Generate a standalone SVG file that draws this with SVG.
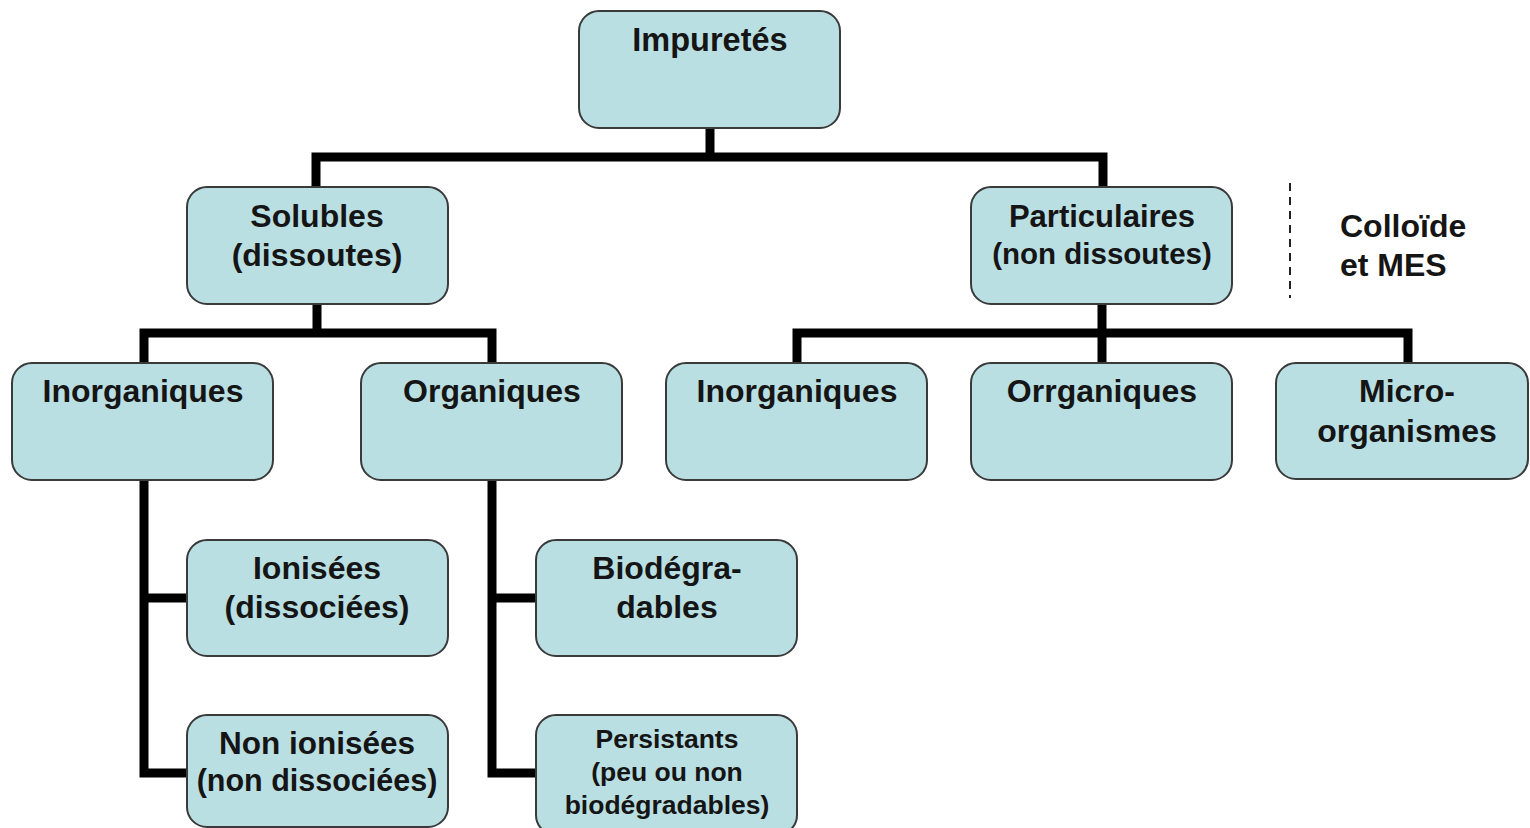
<svg xmlns="http://www.w3.org/2000/svg" width="1530" height="828" viewBox="0 0 1530 828">
<style>
.box{fill:#b9dfe3;stroke:#3a3a3a;stroke-width:2}
.t{font-family:"Liberation Sans",Arial,sans-serif;font-weight:bold;fill:#151515;text-anchor:middle}
.c{fill:none;stroke:#000;stroke-width:9;stroke-linejoin:miter;stroke-linecap:butt}
</style>
<rect width="1530" height="828" fill="#fff"/>
<g id="connectors">
<path class="c" d="M710 128V157M316 191V157H1103V191"/>
<path class="c" d="M317 304V333M144 367V333H492V367"/>
<path class="c" d="M1102 304V333M797 367V333H1408V367M1102 333V367"/>
<path class="c" d="M144 480V773H191M144 598H191"/>
<path class="c" d="M492 480V773H540M492 598H540"/>
<line x1="1290" y1="183" x2="1290" y2="298" stroke="#222" stroke-width="2" stroke-dasharray="8,6"/>
</g>
<g id="impuretes"><rect class="box" x="579" y="11" width="261" height="117" rx="20"/><text class="t" x="710" y="51" font-size="32.5">Impuretés</text></g>
<g id="solubles"><rect class="box" x="187" y="187" width="261" height="117" rx="20"/><text class="t" x="317" y="227" font-size="32">Solubles</text><text class="t" x="317" y="266" font-size="32">(dissoutes)</text></g>
<g id="particulaires"><rect class="box" x="971" y="187" width="261" height="117" rx="20"/><text class="t" x="1102" y="227" font-size="31">Particulaires</text><text class="t" x="1102" y="264" font-size="29.5">(non dissoutes)</text></g>
<g id="colloide"><text class="t" x="1340" y="237" font-size="32" style="text-anchor:start">Colloïde</text><text class="t" x="1340" y="276" font-size="32" style="text-anchor:start">et MES</text></g>
<g id="inorg1"><rect class="box" x="12" y="363" width="261" height="117" rx="20"/><text class="t" x="143" y="402" font-size="32">Inorganiques</text></g>
<g id="org1"><rect class="box" x="361" y="363" width="261" height="117" rx="20"/><text class="t" x="492" y="402" font-size="32">Organiques</text></g>
<g id="inorg2"><rect class="box" x="666" y="363" width="261" height="117" rx="20"/><text class="t" x="797" y="402" font-size="32">Inorganiques</text></g>
<g id="org2"><rect class="box" x="971" y="363" width="261" height="117" rx="20"/><text class="t" x="1102" y="402" font-size="32">Orrganiques</text></g>
<g id="micro"><rect class="box" x="1276" y="363" width="252" height="116" rx="20"/><text class="t" x="1407" y="402" font-size="32">Micro-</text><text class="t" x="1407" y="442" font-size="32">organismes</text></g>
<g id="ionisees"><rect class="box" x="187" y="540" width="261" height="116" rx="20"/><text class="t" x="317" y="579" font-size="32">Ionisées</text><text class="t" x="317" y="618" font-size="32">(dissociées)</text></g>
<g id="nonionisees"><rect class="box" x="187" y="715" width="261" height="112" rx="20"/><text class="t" x="317" y="754" font-size="31.5">Non ionisées</text><text class="t" x="317" y="791" font-size="30.5">(non dissociées)</text></g>
<g id="biodeg"><rect class="box" x="536" y="540" width="261" height="116" rx="20"/><text class="t" x="667" y="579" font-size="32">Biodégra-</text><text class="t" x="667" y="618" font-size="32">dables</text></g>
<g id="persistants"><rect class="box" x="536" y="715" width="261" height="120" rx="20"/><text class="t" x="667" y="748" font-size="26.5">Persistants</text><text class="t" x="667" y="781" font-size="26.5">(peu ou non</text><text class="t" x="667" y="814" font-size="26.5">biodégradables)</text></g>
</svg>
